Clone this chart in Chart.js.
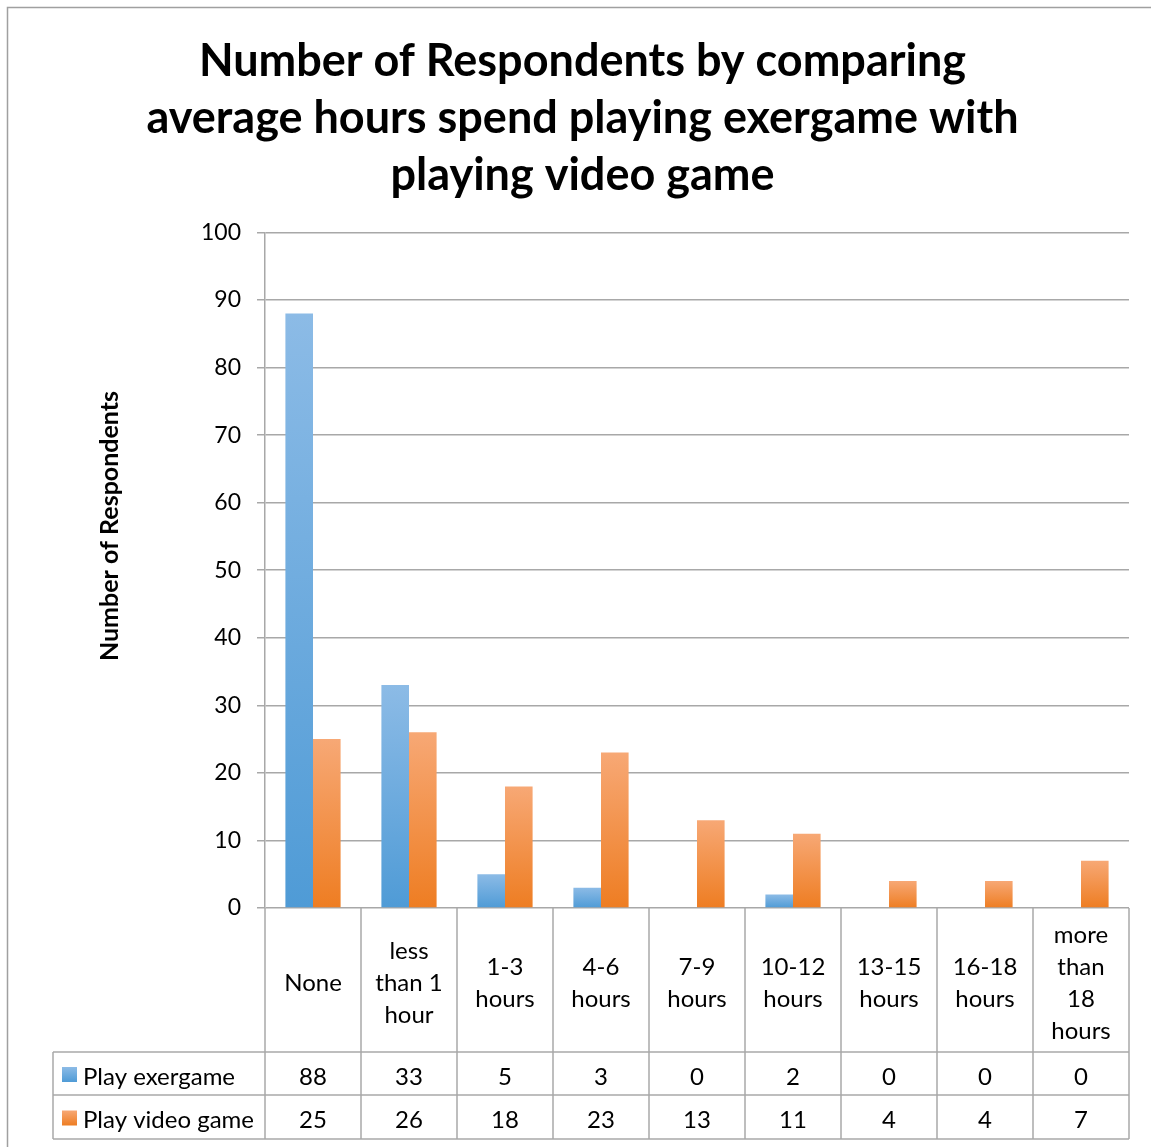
<!DOCTYPE html>
<html>
<head>
<meta charset="utf-8">
<script src="https://cdn.jsdelivr.net/npm/chart.js@4"></script>
<style>
  html, body { margin: 0; padding: 0; background: #fff; }
  #wrap { width: 1151px; height: 1147px; position: relative; }
</style>
</head>
<body>
<div id="wrap"><canvas id="grafico"></canvas></div>
<script>
// Categorias (cada uma já quebrada em linhas, como na tabela de dados)
const categorias = [
    ['None'],
    ['less', 'than 1', 'hour'],
    ['1-3', 'hours'],
    ['4-6', 'hours'],
    ['7-9', 'hours'],
    ['10-12', 'hours'],
    ['13-15', 'hours'],
    ['16-18', 'hours'],
    ['more', 'than', '18', 'hours']
];
const nomesSeries = ['Play exergame', 'Play video game'];
const exergame = [88, 33, 5, 3, 0, 2, 0, 0, 0];
const videoGame = [25, 26, 18, 23, 13, 11, 4, 4, 7];
const eixoY = { min: 0, max: 100, passo: 10 };

const tituloLinhas = [
    'Number of Respondents by comparing',
    'average hours spend playing exergame with',
    'playing video game'
];
const tituloEixoY = 'Number of Respondents';

const corGrade = '#a8a8a8';
const coresSeries = [
    { topo: '#8cbbe6', base: '#4f9bd6' },
    { topo: '#f7a875', base: '#ee7d22' }
];

// Gradiente vertical por barra (claro em cima, escuro embaixo)
function preenchimento(cores) {
    return function(context) {
        const chart = context.chart;
        if (context.type !== 'data' || !chart.chartArea) return cores.base;
        const y = chart.scales.y;
        const topo = y.getPixelForValue(context.raw);
        const base = y.getPixelForValue(0);
        if (base - topo < 1) return cores.base;
        const g = chart.ctx.createLinearGradient(0, topo, 0, base);
        g.addColorStop(0, cores.topo);
        g.addColorStop(1, cores.base);
        return g;
    };
}

// Tabela de dados abaixo do gráfico, título do eixo Y e moldura externa
const tabelaPlugin = {
    id: 'tabelaDados',
    afterDraw(chart) {
        const ctx = chart.ctx;
        const a = chart.chartArea;
        const x = chart.scales.x;
        const n = categorias.length;
        const w = (a.right - a.left) / n;
        const yTopo = a.bottom;
        const yCab = a.bottom + 144;
        const yL1 = yCab + 43;
        const yL2 = yL1 + 44;
        const xEsq = 53;

        const linha = (x1, y1, x2, y2) => {
            ctx.beginPath(); ctx.moveTo(x1, y1); ctx.lineTo(x2, y2); ctx.stroke();
        };

        ctx.save();
        ctx.strokeStyle = corGrade;
        ctx.lineWidth = 1.5;
        for (let i = 0; i < n; i++) {
            const cx = x.getPixelForValue(i);
            linha(cx - w / 2, yTopo, cx - w / 2, yL2);
            if (i === n - 1) linha(cx + w / 2, yTopo, cx + w / 2, yL2);
        }
        linha(xEsq, yCab, a.right, yCab);
        linha(xEsq, yL1, a.right, yL1);
        linha(xEsq, yL2, a.right, yL2);
        linha(xEsq, yCab, xEsq, yL2);

        // moldura do gráfico
        ctx.strokeStyle = '#a0a0a0';
        ctx.strokeRect(7.5, 7.5, 1160, 1160);

        // título do eixo Y (centrado no gráfico + tabela, como no Excel)
        ctx.fillStyle = '#000';
        ctx.save();
        ctx.translate(110, 526);
        ctx.rotate(-Math.PI / 2);
        ctx.font = 'bold 25px Lato';
        ctx.textAlign = 'center';
        ctx.textBaseline = 'middle';
        ctx.fillText(tituloEixoY, 0, 0);
        ctx.restore();

        ctx.font = '24px Lato';
        ctx.textAlign = 'center';
        ctx.textBaseline = 'middle';
        const lh = 32;
        categorias.forEach((linhas, i) => {
            const cx = x.getPixelForValue(i);
            const y0 = (yTopo + yCab) / 2 + 3 - (linhas.length - 1) * lh / 2;
            linhas.forEach((t, k) => ctx.fillText(t, cx, y0 + k * lh));
        });

        const series = [exergame, videoGame];
        const linhasY = [[yCab, yL1], [yL1, yL2]];
        series.forEach((valores, s) => {
            const cy = (linhasY[s][0] + linhasY[s][1]) / 2 + 3.5;
            valores.forEach((v, i) => ctx.fillText(String(v), x.getPixelForValue(i), cy));
            // legenda na tabela
            const g = ctx.createLinearGradient(0, cy - 10, 0, cy + 5);
            g.addColorStop(0, coresSeries[s].topo);
            g.addColorStop(1, coresSeries[s].base);
            ctx.fillStyle = g;
            ctx.fillRect(62, cy - 10, 15, 15);
            ctx.fillStyle = '#000';
            ctx.textAlign = 'left';
            ctx.fillText(nomesSeries[s], 83, cy);
            ctx.textAlign = 'center';
        });
        ctx.restore();
    }
};

const ctx = document.getElementById('grafico').getContext('2d');
new Chart(ctx, {
    type: 'bar',
    data: {
        labels: categorias,
        datasets: [
            {
                label: nomesSeries[0],
                data: exergame,
                backgroundColor: preenchimento(coresSeries[0]),
                categoryPercentage: 0.575,
                barPercentage: 1
            },
            {
                label: nomesSeries[1],
                data: videoGame,
                backgroundColor: preenchimento(coresSeries[1]),
                categoryPercentage: 0.575,
                barPercentage: 1
            }
        ]
    },
    options: {
        responsive: true,
        maintainAspectRatio: false,
        animation: false,
        layout: { padding: { left: 36, right: 22, top: 0, bottom: 239 } },
        scales: {
            x: {
                ticks: { display: false },
                grid: { display: false, drawTicks: false },
                border: { display: false },
                afterFit(scale) { scale.height = 0; }
            },
            y: {
                min: eixoY.min,
                max: eixoY.max,
                ticks: {
                    stepSize: eixoY.passo,
                    color: '#000',
                    padding: 16,
                    font: { family: 'Lato', size: 23 }
                },
                grid: { color: corGrade, lineWidth: 1.5, tickLength: 8 },
                border: { color: corGrade, width: 1.5 },
                afterFit(scale) { scale.width = 229; }
            }
        },
        plugins: {
            legend: { display: false },
            tooltip: { enabled: false },
            title: {
                display: true,
                text: tituloLinhas,
                color: '#000',
                font: { family: 'Lato', size: 45, weight: 'bold', lineHeight: 1.27 },
                padding: { top: 33, bottom: 28 }
            }
        }
    },
    plugins: [tabelaPlugin]
});
</script>
</body>
</html>
